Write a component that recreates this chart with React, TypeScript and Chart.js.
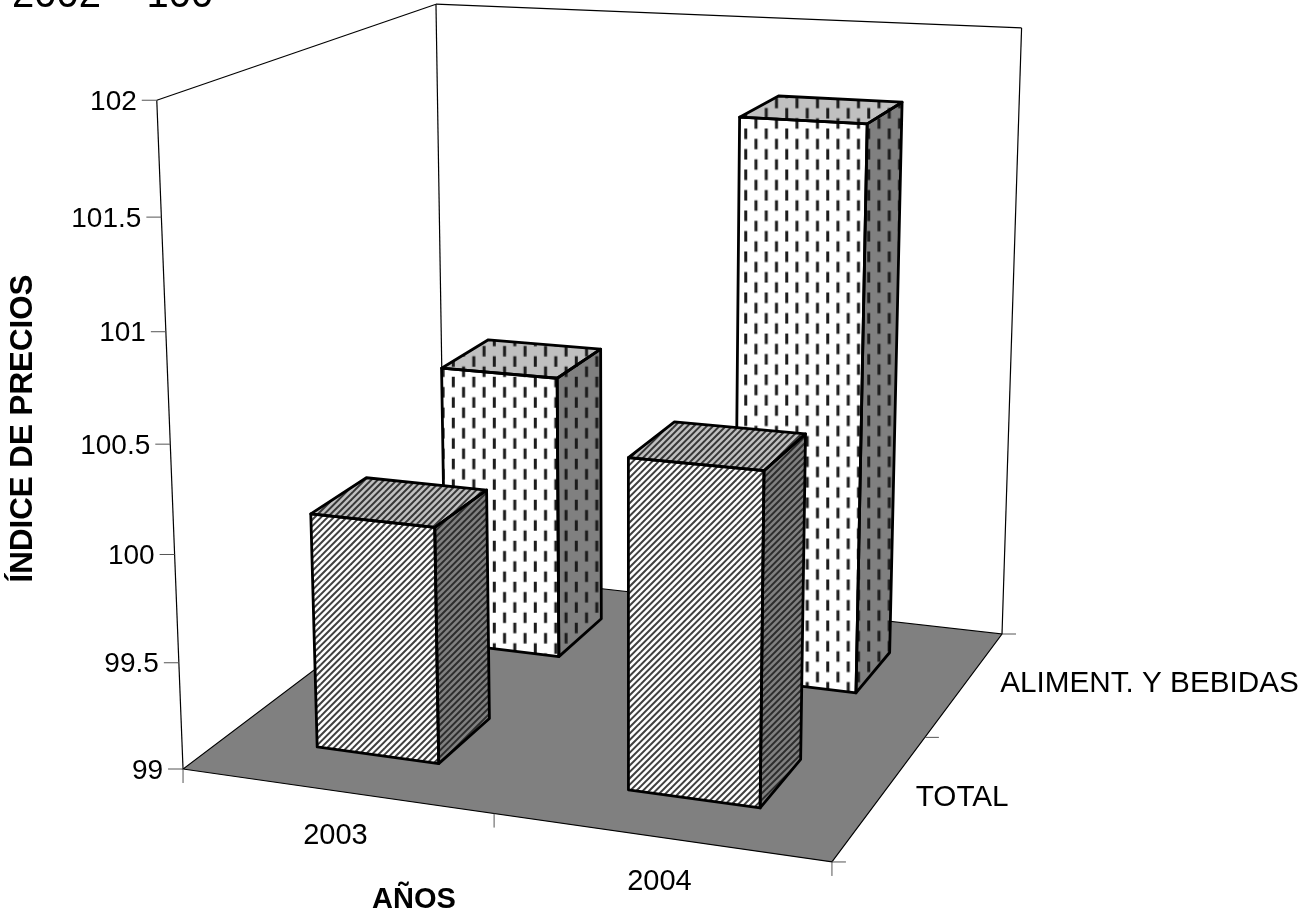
import React, { useEffect, useRef } from "react";
import { Chart, registerables } from "chart.js";

Chart.register(...registerables);

const YEARS = ["2003", "2004"];
const SERIES = ["TOTAL", "ALIMENT. Y BEBIDAS"];
const TOTAL_VALUES = [100.1, 100.5];
const ALIMENT_VALUES = [100.4, 101.7];
const Y_MIN = 99;
const Y_MAX = 102;
const Y_STEP = 0.5;
const HEADER = "2002 = 100";
const Y_TITLE = "ÍNDICE DE PRECIOS";
const X_TITLE = "AÑOS";

// Perspective camera: homogeneous columns for the chart cube (u = years, v = series, w = value)
const C0 = [164.9, 692.8, 0.9009];
const CU = [525.2, 22.2, -0.0714];
const CV = [311.9, -81, 0.1705];
const CW = [-31.5, -607.5, -0.05];

function project(u: number, v: number, w: number): [number, number] {
  const h = [0, 1, 2].map((i) => C0[i] + u * CU[i] + v * CV[i] + w * CW[i]);
  return [h[0] / h[2], h[1] / h[2]];
}

function makeDashTile() {
  const c = document.createElement("canvas");
  c.width = 41;
  c.height = 41;
  const g = c.getContext("2d")!;
  g.fillStyle = "#1c1c1c";
  for (let k = 0; k < 4; k++) {
    const x = k * 10.25;
    const off = k % 2 ? 10.25 : 0;
    for (let j = -1; j < 3; j++) {
      g.fillRect(x, off + j * 20.5, 3, 10.5);
    }
  }
  return c;
}

function makeStripeTile() {
  const c = document.createElement("canvas");
  c.width = 32;
  c.height = 32;
  const g = c.getContext("2d")!;
  g.strokeStyle = "rgba(30,30,30,0.85)";
  g.lineWidth = 2;
  for (let k = -6; k <= 6; k++) {
    const d = k * 6.4;
    g.beginPath();
    g.moveTo(d - 4, 36);
    g.lineTo(d + 36, -4);
    g.stroke();
  }
  return c;
}

const cubePlugin = {
  id: "cube3d",
  afterDatasetsDraw(chart: any) {
    const ctx: CanvasRenderingContext2D = chart.ctx;
    const area = chart.chartArea;
    const xs = chart.scales.x;
    const ys = chart.scales.y;
    const zs = chart.scales.z;
    const nx = (p: number) => (p - area.left) / area.width;
    const ny = (p: number) => (area.bottom - p) / area.height;
    const poly = (pts: [number, number][]) => {
      ctx.beginPath();
      pts.forEach((p, i) => (i ? ctx.lineTo(p[0], p[1]) : ctx.moveTo(p[0], p[1])));
      ctx.closePath();
    };
    const seg = (a: [number, number], b: [number, number]) => {
      ctx.beginPath();
      ctx.moveTo(a[0], a[1]);
      ctx.lineTo(b[0], b[1]);
      ctx.stroke();
    };

    ctx.save();
    // walls
    ctx.strokeStyle = "#000";
    ctx.lineWidth = 1.2;
    seg(project(0, 0, 0), project(0, 0, 1));
    seg(project(0, 0, 1), project(0, 1, 1));
    seg(project(0, 1, 1), project(1, 1, 1));
    seg(project(1, 1, 1), project(1, 1, 0));
    seg(project(0, 1, 1), project(0, 1, 0));
    // floor
    poly([project(0, 0, 0), project(1, 0, 0), project(1, 1, 0), project(0, 1, 0)]);
    ctx.fillStyle = "#808080";
    ctx.fill();
    ctx.stroke();

    // ticks
    ctx.strokeStyle = "#555";
    ctx.lineWidth = 1;
    ctx.fillStyle = "#000";
    ctx.font = "28px 'Liberation Sans'";
    ctx.textBaseline = "alphabetic";
    ctx.textAlign = "right";
    ys.ticks.forEach((t: any) => {
      const [px, py] = project(0, 0, ny(ys.getPixelForValue(t.value)));
      seg([px, py], [px - 15, py]);
      ctx.fillText(String(t.value), px - 20, py + 9.5);
    });
    for (let i = 0; i <= YEARS.length; i++) {
      const [px, py] = project(i / YEARS.length, 0, 0);
      seg([px, py], [px, py + 14]);
    }
    for (let i = 0; i <= SERIES.length; i++) {
      const [px, py] = project(1, i / SERIES.length, 0);
      seg([px, py], [px + 14, py]);
    }
    ctx.font = "29px 'Liberation Sans'";
    ctx.textAlign = "center";
    YEARS.forEach((label, i) => {
      const [px, py] = project(nx(xs.getPixelForValue(i)), 0, 0);
      ctx.fillText(label, px, py + 53);
    });
    ctx.font = "29.7px 'Liberation Sans'";
    ctx.textAlign = "left";
    SERIES.forEach((label, i) => {
      const [px, py] = project(1, nx(zs.getPixelForValue(i)), 0);
      ctx.fillText(label, px + 35, py + 9);
    });

    // bars, back row first
    const dash = ctx.createPattern(makeDashTile(), "repeat")!;
    const stripe = ctx.createPattern(makeStripeTile(), "repeat")!;
    const dashPhase = [
      [451.8, 376.7],
      [744.2, 128.5],
    ];
    for (let d = chart.data.datasets.length - 1; d >= 0; d--) {
      const meta = chart.getDatasetMeta(d);
      const vc = nx(zs.getPixelForValue(d));
      meta.data.forEach((el: any, i: number) => {
        const half = el.width / 2 / area.width;
        const uc = nx(el.x);
        const u0 = uc - half;
        const u1 = uc + half;
        const v0 = vc - half;
        const v1 = vc + half;
        const b = ny(el.base);
        const t = ny(el.y);
        const faces: [string, [number, number][]][] = [
          ["#ffffff", [project(u0, v0, b), project(u1, v0, b), project(u1, v0, t), project(u0, v0, t)]],
          ["#c0c0c0", [project(u0, v0, t), project(u1, v0, t), project(u1, v1, t), project(u0, v1, t)]],
          ["#808080", [project(u1, v0, b), project(u1, v1, b), project(u1, v1, t), project(u1, v0, t)]],
        ];
        const pat = d === 0 ? stripe : dash;
        if (d === 1) {
          pat.setTransform(new DOMMatrix().translate(dashPhase[i][0], dashPhase[i][1]));
        }
        faces.forEach(([base, pts]) => {
          poly(pts);
          ctx.fillStyle = base;
          ctx.fill();
          ctx.fillStyle = pat;
          ctx.fill();
        });
        ctx.strokeStyle = "#000";
        ctx.lineWidth = 2.8;
        ctx.lineJoin = "round";
        faces.forEach(([, pts]) => {
          poly(pts);
          ctx.stroke();
        });
      });
    }

    // titles
    ctx.fillStyle = "#000";
    ctx.textAlign = "center";
    ctx.font = "bold 29px 'Liberation Sans'";
    ctx.fillText(X_TITLE, 414, 908);
    ctx.save();
    ctx.translate(32, 428.5);
    ctx.rotate(-Math.PI / 2);
    ctx.font = "bold 31.3px 'Liberation Sans'";
    ctx.fillText(Y_TITLE, 0, 0);
    ctx.restore();
    ctx.textAlign = "left";
    ctx.font = "40px 'Liberation Sans'";
    ctx.fillText(HEADER, 12, 7);
    ctx.restore();
  },
};

export default function App() {
  const ref = useRef<HTMLCanvasElement>(null);
  useEffect(() => {
    const chart = new Chart(ref.current!, {
      type: "bar",
      data: {
        labels: YEARS,
        datasets: [
          { label: SERIES[0], data: TOTAL_VALUES, base: Y_MIN, backgroundColor: "transparent", xAxisID: "x", yAxisID: "y" },
          { label: SERIES[1], data: ALIMENT_VALUES, base: Y_MIN, backgroundColor: "transparent", xAxisID: "x", yAxisID: "y" },
        ],
      },
      options: {
        animation: false,
        responsive: false,
        layout: { padding: 0 },
        datasets: { bar: { grouped: false, barPercentage: 0.4, categoryPercentage: 1 } },
        plugins: { legend: { display: false }, title: { display: false }, tooltip: { enabled: false } },
        scales: {
          x: { type: "category", display: false, offset: true },
          z: { type: "category", axis: "x", labels: SERIES, display: false, offset: true },
          y: { type: "linear", display: false, min: Y_MIN, max: Y_MAX, ticks: { stepSize: Y_STEP } },
        },
      },
      plugins: [cubePlugin],
    } as any);
    return () => chart.destroy();
  }, []);
  return (
    <div style={{ position: "absolute", left: 0, top: 0, width: 1301, height: 914 }}>
      <canvas ref={ref} width={1301} height={914} style={{ display: "block" }} />
    </div>
  );
}
